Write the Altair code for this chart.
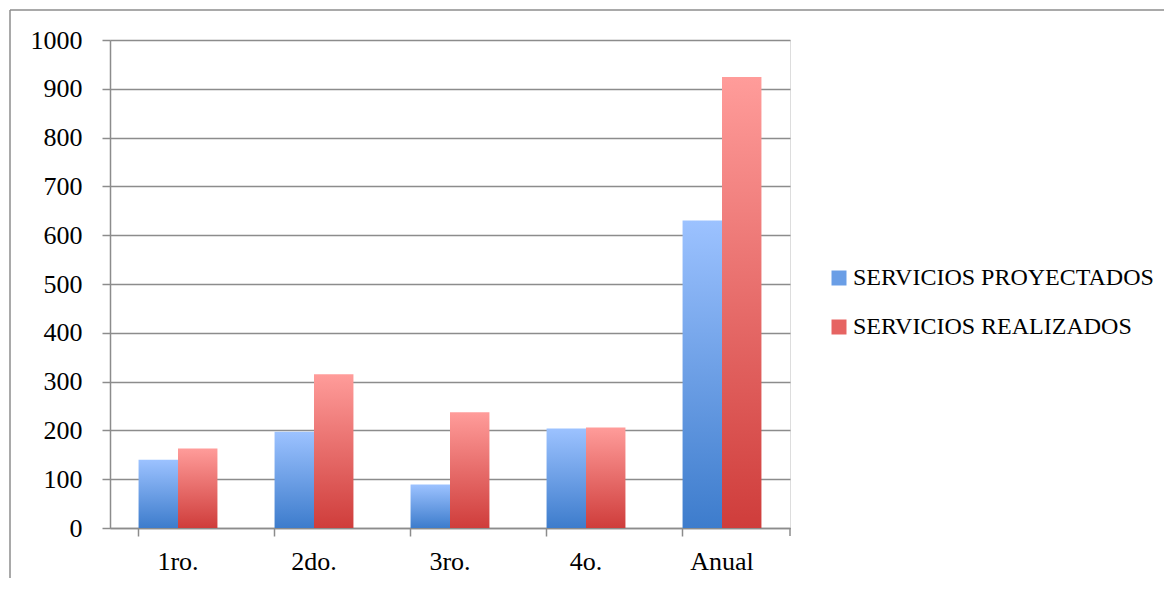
import altair as alt
import pandas as pd

categorias = ["1ro.", "2do.", "3ro.", "4o.", "Anual"]
proyectados = [140, 197, 89, 204, 630]
realizados = [163, 315, 237, 206, 924]
series = ["SERVICIOS PROYECTADOS", "SERVICIOS REALIZADOS"]
y_ticks = [0, 100, 200, 300, 400, 500, 600, 700, 800, 900, 1000]

rows = []
for c, p, r in zip(categorias, proyectados, realizados):
    rows.append({"cat": c, "serie": series[0], "valor": p})
    rows.append({"cat": c, "serie": series[1], "valor": r})
df = pd.DataFrame(rows)

FONT = "Liberation Serif"

grad_blue = alt.Gradient(
    gradient="linear", x1=0, y1=1, x2=0, y2=0,
    stops=[alt.GradientStop(color="#3d7ccc", offset=0),
           alt.GradientStop(color="#9cc2ff", offset=1)],
)
grad_red = alt.Gradient(
    gradient="linear", x1=0, y1=1, x2=0, y2=0,
    stops=[alt.GradientStop(color="#cf3d3b", offset=0),
           alt.GradientStop(color="#ff9c9a", offset=1)],
)

x_enc = alt.X("cat:N", sort=categorias,
              scale=alt.Scale(paddingInner=0.42, paddingOuter=0.21),
              axis=alt.Axis(title=None, labelAngle=0, bandPosition=0,
                            domainColor="#8c8c8c", domainWidth=1.5,
                            tickColor="#8c8c8c", tickWidth=1.5, tickSize=8,
                            labelPadding=12, labelFontSize=26, labelFont=FONT,
                            labelColor="black", grid=False))
y_enc = alt.Y("valor:Q",
              scale=alt.Scale(domain=[0, 1000], nice=False),
              axis=alt.Axis(title=None, values=y_ticks, format="d",
                            domainColor="#8c8c8c", domainWidth=1.5,
                            tickColor="#8c8c8c", tickWidth=1.5, tickSize=8,
                            gridColor="#8c8c8c", gridWidth=1.5,
                            labelPadding=20, labelFontSize=26, labelFont=FONT,
                            labelColor="black"))

base = alt.Chart(df)

bars = base.mark_bar().encode(
    x=x_enc,
    y=y_enc,
    xOffset=alt.XOffset("serie:N", sort=series),
    fill=alt.condition(alt.datum.serie == series[0],
                       alt.value(grad_blue), alt.value(grad_red)),
)

legend_layer = base.mark_bar(opacity=0).encode(
    x=alt.X("cat:N", sort=categorias),
    y="valor:Q",
    xOffset=alt.XOffset("serie:N", sort=series),
    color=alt.Color("serie:N", sort=series,
                    scale=alt.Scale(domain=series, range=["#6a9ee6", "#e66462"]),
                    legend=alt.Legend(title=None, orient="none",
                                      legendX=717, legendY=226,
                                      symbolType="square", symbolSize=225,
                                      symbolOpacity=1, symbolStrokeWidth=0,
                                      labelFontSize=24, labelFont=FONT,
                                      labelColor="black", rowPadding=25,
                                      labelOffset=2, labelLimit=400)),
)

frame_v = alt.Chart(pd.DataFrame({"k": [0]})).mark_rule(color="#8c8c8c", strokeWidth=1.5).encode(
    x=alt.value(-100), y=alt.value(-30), y2=alt.value(600))
frame_h = alt.Chart(pd.DataFrame({"k": [0]})).mark_rule(color="#8c8c8c", strokeWidth=1.5).encode(
    x=alt.value(-100), x2=alt.value(1100), y=alt.value(-30))
right_tick = alt.Chart(pd.DataFrame({"k": [0]})).mark_rule(color="#8c8c8c", strokeWidth=1.5).encode(
    x=alt.value(680), y=alt.value(488), y2=alt.value(496))

chart = alt.layer(bars, legend_layer, frame_v, frame_h, right_tick).properties(
    width=680, height=488,
    autosize=alt.AutoSizeParams(type="none"),
    padding={"left": 102, "top": 32, "right": 374, "bottom": 50},
).configure_view(stroke=None).configure(background="white")

chart.save("out.html", embed_options={"renderer": "svg", "actions": False})
